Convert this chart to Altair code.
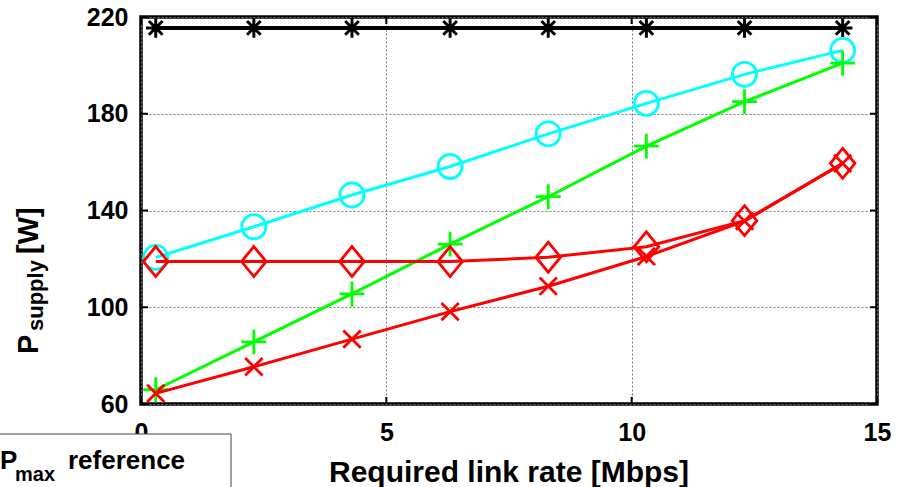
import altair as alt
import pandas as pd

# ---- data ----
x_rate = [0.3, 2.3, 4.3, 6.3, 8.3, 10.3, 12.3, 14.3]
p_max_ref = [215.5, 215.5, 215.5, 215.5, 215.5, 215.5, 215.5, 215.5]
p_cyan = [120.6, 133.3, 146.4, 158.2, 171.7, 184.3, 196.3, 206.2]
p_green = [65.9, 85.7, 105.5, 126.1, 145.7, 166.6, 185.0, 200.9]
p_red_diamond = [118.9, 118.9, 118.9, 118.9, 120.7, 125.0, 135.8, 159.5]
p_red_x = [64.4, 75.4, 86.8, 98.2, 108.7, 121.0, 135.6, 159.5]

x_ticks = [0, 5, 10, 15]
y_ticks = [60, 100, 140, 180, 220]

FONT = "Liberation Sans"
W, H = 736, 387
PL, PT = 141, 17

xs = alt.Scale(domain=[0, 15], nice=False, zero=False)
ys = alt.Scale(domain=[60, 220], nice=False, zero=False)
xaxis = alt.Axis(values=x_ticks, grid=True, title=None, labelPadding=16,
                 labelFlush=False, labelOverlap=False, format="d")
yaxis = alt.Axis(values=y_ticks, grid=True, title=None, labelPadding=13,
                 labelFlush=False, labelOverlap=False, format="d")
X = alt.X("x:Q", scale=xs, axis=xaxis)
Y = alt.Y("y:Q", scale=ys, axis=yaxis)

STAR = "M-1,0L1,0M0,-1L0,1M-0.7,-0.7L0.7,0.7M-0.7,0.7L0.7,-0.7"
PLUS = "M-1,0L1,0M0,-1L0,1"
XMARK = "M-1,-1L1,1M-1,1L1,-1"
DIAMOND = "M0,-1L0.82,0L0,1L-0.82,0Z"

series = [
    (p_max_ref, "#000000", STAR, 380, 4, 3),
    (p_cyan, "#00FFFF", "circle", 576, 3, 2.8),
    (p_green, "#00FF00", PLUS, 620, 3, 2.8),
    (p_red_diamond, "#FF0000", DIAMOND, 900, 3, 2.8),
    (p_red_x, "#FF0000", XMARK, 300, 3, 2.8),
]

layers = []
for vals, col, shp, sz, lw, mw in series:
    df = pd.DataFrame({"x": x_rate, "y": vals})
    base = alt.Chart(df)
    layers.append(base.mark_line(color=col, strokeWidth=lw).encode(x=X, y=Y))
    layers.append(base.mark_point(shape=shp, size=sz, stroke=col, filled=False,
                                  strokeWidth=mw, opacity=1).encode(x=X, y=Y))

# inward tick marks
yt = pd.DataFrame({"y": y_ticks})
xt = pd.DataFrame({"x": x_ticks})
layers.append(alt.Chart(yt).mark_rule(color="black", strokeWidth=2).encode(
    y=Y, x=alt.value(0), x2=alt.value(7)))
layers.append(alt.Chart(yt).mark_rule(color="black", strokeWidth=2).encode(
    y=Y, x=alt.value(W - 7), x2=alt.value(W)))
layers.append(alt.Chart(xt).mark_rule(color="black", strokeWidth=2).encode(
    x=X, y=alt.value(H - 7), y2=alt.value(H)))
layers.append(alt.Chart(xt).mark_rule(color="black", strokeWidth=2).encode(
    x=X, y=alt.value(0), y2=alt.value(7)))

one = pd.DataFrame({"a": [0]})

def txt(s, px, py, size, angle=0, align="left", baseline="alphabetic"):
    kw = dict(text=s, font=FONT, fontWeight="bold", fontSize=size,
              align=align, baseline=baseline, color="black")
    if angle:
        kw["angle"] = angle
    return alt.Chart(one).mark_text(**kw).encode(
        x=alt.value(px - PL), y=alt.value(py - PT))

# axis titles
layers.append(txt("Required link rate [Mbps]", 509, 482, 30, align="center"))
layers.append(txt("P", 38, 354, 29, angle=270))
layers.append(txt("supply", 43, 331, 22, angle=270))
layers.append(txt("[W]", 38, 254, 29, angle=270))

# legend box (partly outside the figure)
layers.append(alt.Chart(one).mark_rect(fill="white", stroke="#444", strokeWidth=1).encode(
    x=alt.value(-4 - PL), x2=alt.value(231 - PL),
    y=alt.value(434 - PT), y2=alt.value(520 - PT)))
layers.append(txt("P", 0, 469, 26))
layers.append(txt("max", 15, 481, 20))
layers.append(txt("reference", 68, 469, 26))

chart = alt.layer(*layers).properties(
    width=W, height=H, autosize="none",
    padding={"left": PL, "top": PT, "right": 899 - PL - W, "bottom": 487 - PT - H},
).configure_view(stroke="black", strokeWidth=3.5).configure_axis(
    domain=False, ticks=False, labelFont=FONT, labelFontWeight="bold",
    labelFontSize=25, labelColor="black", gridColor="#777", gridDash=[2, 2],
    gridWidth=1, gridOpacity=1,
)

chart.save("out.html", embed_options={"renderer": "svg", "actions": False})
